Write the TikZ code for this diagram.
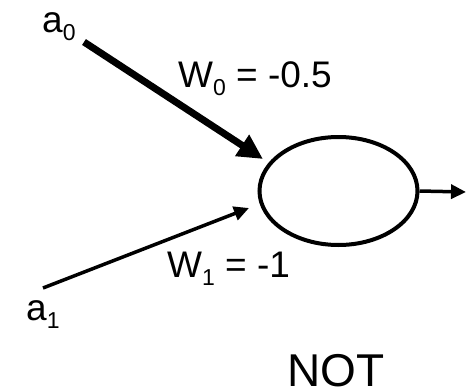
\documentclass[tikz,border=0pt]{standalone}
\usepackage{fontspec}
\setmainfont{Liberation Sans}
\usetikzlibrary{arrows.meta,shapes.geometric}

\newcommand{\lowsub}[1]{\raisebox{-8pt}{\fontsize{23}{23}\selectfont #1}}

\begin{document}
\begin{tikzpicture}[
  x=1pt, y=-1pt,
  font=\fontsize{37}{40}\selectfont,
  lbl/.style    = {inner sep=0pt, anchor=base west},
  neuron/.style = {ellipse, draw, line width=4pt, inner sep=0pt,
                   minimum width=158pt, minimum height=108pt},
  thick ar/.style = {-{Triangle[length=25pt,width=24pt]}, line width=7pt},
  thin ar/.style  = {-{Triangle[length=15pt,width=14pt]}, line width=3.5pt},
]
\useasboundingbox (0,0) rectangle (466,391);

% ---- unit ------------------------------------------------------------------
\node[neuron] (cell) at (338.5,191) {};

% ---- inputs ----------------------------------------------------------------
\node[lbl] (a0) at (42,32)  {a\lowsub{0}};
\node[lbl] (a1) at (26,320) {a\lowsub{1}};

\coordinate (s0) at (84,42);
\coordinate (t0) at (263,159);
\coordinate (s1) at (43,288);
\coordinate (t1) at (249,208);
\coordinate (out) at (466,192);

\draw[thick ar] (s0) -- (t0);
\draw[thin ar]  (s1) -- (t1);
\draw[thin ar]  (cell.east) -- (out);

% ---- weights ---------------------------------------------------------------
\node[lbl] (w0) at (178,87)  {W\lowsub{0} = -0.5};
\node[lbl] (w1) at (167,277) {W\lowsub{1} = -1};

\node[lbl, font=\fontsize{46}{50}\selectfont] (gate) at (287,386) {NOT};

\end{tikzpicture}
\end{document}
